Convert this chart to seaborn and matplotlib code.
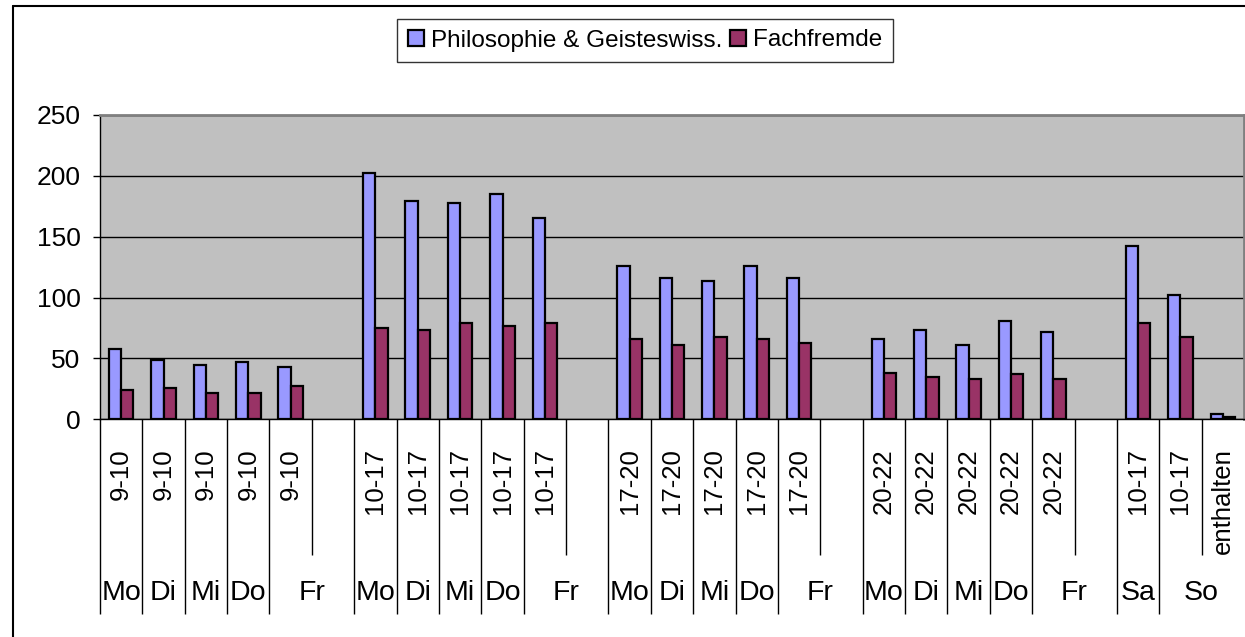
import numpy as np
import pandas as pd
import matplotlib
matplotlib.use("Agg")
import matplotlib.pyplot as plt
from matplotlib.lines import Line2D
import seaborn as sns

# innere Achsenebene: Uhrzeit je Termin ("" = leerer Platz im Fr-Block)
zeiten = ["9-10", "9-10", "9-10", "9-10", "9-10", "",
          "10-17", "10-17", "10-17", "10-17", "10-17", "",
          "17-20", "17-20", "17-20", "17-20", "17-20", "",
          "20-22", "20-22", "20-22", "20-22", "20-22", "",
          "10-17", "10-17", "enthalten"]
# aeussere Achsenebene: Wochentag und Anzahl Plaetze darunter
tage = ["Mo", "Di", "Mi", "Do", "Fr"] * 4 + ["Sa", "So"]
tage_plaetze = [1, 1, 1, 1, 2] * 4 + [1, 2]

philosophie = [58, 49, 45, 47, 43, np.nan,
               202, 179, 178, 185, 165, np.nan,
               126, 116, 114, 126, 116, np.nan,
               66, 73, 61, 81, 72, np.nan,
               142, 102, 4]
fachfremde = [24, 26, 22, 22, 27, np.nan,
              75, 73, 79, 77, 79, np.nan,
              66, 61, 68, 66, 63, np.nan,
              38, 35, 33, 37, 33, np.nan,
              79, 68, 2]

serien = ["Philosophie & Geisteswiss.", "Fachfremde"]
farben = ["#9999FF", "#993366"]

slots = [str(i) for i in range(len(zeiten))]
df = pd.DataFrame({
    "slot": slots * 2,
    "wert": philosophie + fachfremde,
    "serie": [serien[0]] * len(slots) + [serien[1]] * len(slots),
}).dropna()

sns.set_style("white")
plt.rcParams["font.family"] = ["Liberation Sans", "DejaVu Sans"]
plt.rcParams["text.color"] = "black"
plt.rcParams["ytick.color"] = "black"
plt.rcParams["ytick.labelcolor"] = "black"

W, H = 1245, 637
fig = plt.figure(figsize=(W / 100, H / 100), dpi=100)
ax = fig.add_axes([100 / W, 1 - 419.3 / H, 1144 / W, 304.3 / H])
ax.set_facecolor("#C0C0C0")

sns.barplot(data=df, x="slot", y="wert", hue="serie", order=slots,
            hue_order=serien, palette=farben, saturation=1, width=0.58,
            gap=0, edgecolor="black", errorbar=None, ax=ax)
for p in ax.patches:
    p.set_linewidth(1.6)
    p.set_edgecolor("black")

ax.set_xlim(-0.5, len(slots) - 0.5)
ax.set_ylim(0, 250)
ax.set_yticks(range(0, 251, 50))
ax.set_xticks([])
ax.set_xlabel("")
ax.set_ylabel("")
ax.tick_params(axis="y", length=5, width=1, pad=9, labelsize=19,
               direction="out", color="black", left=True)
ax.yaxis.grid(True, color="black", lw=1)
ax.set_axisbelow(True)
for s in ["top", "right"]:
    ax.spines[s].set_color("#808080")
    ax.spines[s].set_linewidth(2)
for s in ["left", "bottom"]:
    ax.spines[s].set_color("black")
    ax.spines[s].set_linewidth(1)

# legend oben
handles, labels = ax.get_legend_handles_labels()
leg = ax.legend(handles, labels, loc="center",
                bbox_to_anchor=(645 / W, 1 - 40.5 / H),
                bbox_transform=fig.transFigure, ncol=2, frameon=True,
                fancybox=False, shadow=False, edgecolor="black", fontsize=17.5,
                handlelength=0.65, handleheight=0.65, handletextpad=0.3,
                columnspacing=0.3, borderpad=0.45, borderaxespad=0)
leg.get_frame().set_linewidth(1)
for h in leg.legend_handles:
    h.set_edgecolor("black")
    h.set_linewidth(1.6)

# mehrstufige Kategorienachse
trans = ax.get_xaxis_transform()
starts = np.concatenate([[0], np.cumsum(tage_plaetze)[:-1]])
ax.vlines(starts - 0.5, 0, -0.641, transform=trans, colors="black",
          lw=1, clip_on=False)
innen = [s + 0.5 for s, n in zip(starts, tage_plaetze) if n > 1]
ax.vlines(innen, 0, -0.447, transform=trans, colors="black",
          lw=1, clip_on=False)

for i, z in enumerate(zeiten):
    ax.text(i, -0.095, z, rotation=90, ha="center", va="top",
            transform=trans, fontsize=18.5)
for s, n, t in zip(starts, tage_plaetze, tage):
    ax.text(s + (n - 1) / 2, -0.57, t, ha="center", va="center",
            transform=trans, fontsize=20.5)

# Rahmen des Diagrammbereichs
fig.add_artist(Line2D([13 / W, 13 / W], [0, 1 - 6 / H],
                      transform=fig.transFigure, color="black", lw=1.5))
fig.add_artist(Line2D([13 / W, 1], [1 - 6 / H, 1 - 6 / H],
                      transform=fig.transFigure, color="black", lw=1.5))

fig.savefig("out.png", dpi=100)
